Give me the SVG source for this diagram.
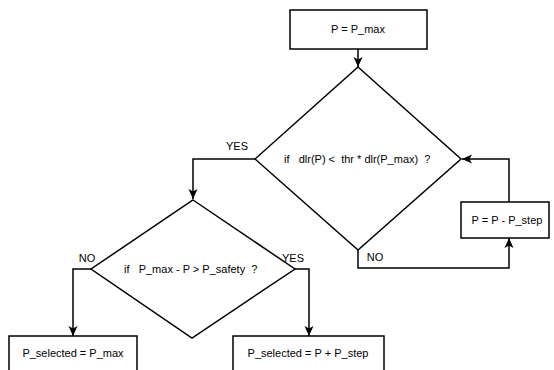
<svg xmlns="http://www.w3.org/2000/svg" width="554" height="370" viewBox="0 0 554 370">
<style>
.box{fill:#fff;stroke:#000;stroke-width:1.5}
.ln{fill:none;stroke:#000;stroke-width:1.5}
text{font-family:"Liberation Sans",Arial,sans-serif;font-size:11px;fill:#000;white-space:pre}
.c{text-anchor:middle}
</style>
<defs>
<marker id="ah" markerWidth="10" markerHeight="10" viewBox="0 0 10 10" refX="10" refY="5" orient="auto" markerUnits="userSpaceOnUse">
<path d="M0,0.5 L10,5 L0,9.5 L2.5,5 Z" fill="#000"/>
</marker>
</defs>
<rect width="554" height="370" fill="#fff"/>
<g id="connectors">
<path class="ln" d="M358,49 V67" marker-end="url(#ah)"/>
<path class="ln" d="M255,159 H193 V199" marker-end="url(#ah)"/>
<path class="ln" d="M91,269 H73 V336" marker-end="url(#ah)"/>
<path class="ln" d="M295,269 H309 V336" marker-end="url(#ah)"/>
<path class="ln" d="M358,250 V268 H509 V238" marker-end="url(#ah)"/>
<path class="ln" d="M509,202 V159 H462" marker-end="url(#ah)"/>
<text x="237" y="150" class="c">YES</text>
<text x="87" y="262" class="c">NO</text>
<text x="293" y="262" class="c">YES</text>
<text x="375" y="261" class="c">NO</text>
</g>
<g id="start">
<rect class="box" x="290" y="10" width="137" height="39"/>
<text x="358" y="33" class="c">P = P_max</text>
</g>
<g id="decision1">
<polygon class="box" points="358,67 461,159 358,250 255,159"/>
<text x="284" y="163">if   dlr(P) &lt;  thr * dlr(P_max)  ?</text>
</g>
<g id="decrement">
<rect class="box" x="461" y="202" width="88" height="36"/>
<text x="507" y="224" class="c">P = P - P_step</text>
</g>
<g id="decision2">
<polygon class="box" points="193,200 295,269 192,338 91,269"/>
<text x="124" y="273">if   P_max - P &gt; P_safety  ?</text>
</g>
<g id="select-max">
<rect class="box" x="9" y="336" width="128" height="45"/>
<text x="73" y="357" class="c">P_selected = P_max</text>
</g>
<g id="select-step">
<rect class="box" x="233" y="336" width="151" height="45"/>
<text x="308" y="357" class="c">P_selected = P + P_step</text>
</g>
</svg>
